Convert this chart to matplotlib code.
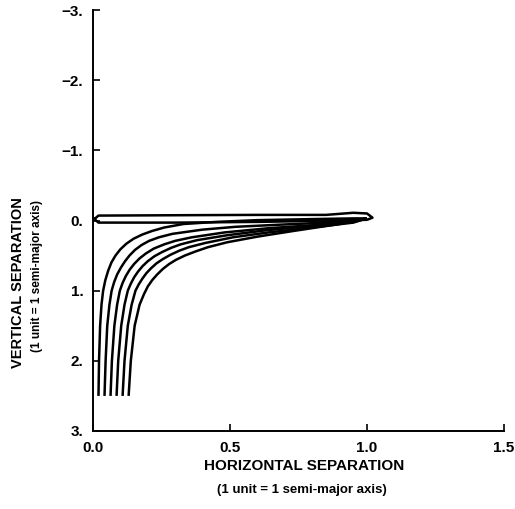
import numpy as np
import matplotlib
matplotlib.use('Agg')
import matplotlib.pyplot as plt

plt.rcParams['font.family'] = ['Liberation Sans', 'DejaVu Sans']

# trajectories, x = horizontal separation, y = vertical separation
curve_x = [
    [0.020, 0.022, 0.026, 0.031, 0.037, 0.045, 0.055, 0.067, 0.082, 0.100, 0.122, 0.148, 0.180, 0.215,
     0.26, 0.33, 0.45, 0.60, 0.80, 0.95, 1.00],
    [0.042, 0.046, 0.052, 0.060, 0.068, 0.077, 0.088, 0.102, 0.117, 0.133, 0.153, 0.177, 0.205, 0.24,
     0.29, 0.40, 0.52, 0.68, 0.85, 0.95, 1.00],
    [0.064, 0.069, 0.078, 0.088, 0.098, 0.108, 0.120, 0.134, 0.150, 0.170, 0.193, 0.222, 0.26, 0.30,
     0.36, 0.48, 0.64, 0.83, 0.95, 1.00],
    [0.086, 0.092, 0.103, 0.115, 0.127, 0.138, 0.150, 0.164, 0.181, 0.200, 0.224, 0.252, 0.285, 0.32,
     0.38, 0.49, 0.63, 0.82, 0.95, 1.00],
    [0.108, 0.115, 0.127, 0.141, 0.155, 0.167, 0.180, 0.195, 0.212, 0.232, 0.255, 0.282, 0.315, 0.35,
     0.41, 0.51, 0.64, 0.82, 0.95, 1.00],
    [0.130, 0.138, 0.152, 0.170, 0.186, 0.200, 0.216, 0.234, 0.255, 0.278, 0.303, 0.335, 0.375, 0.42,
     0.49, 0.60, 0.73, 0.90, 1.00],
]
curve_y = [
    [2.50, 2.00, 1.50, 1.20, 1.00, 0.85, 0.72, 0.60, 0.50, 0.41, 0.33, 0.26, 0.20, 0.15,
     0.10, 0.05, 0.02, -0.005, -0.02, -0.03, -0.03],
    [2.50, 2.00, 1.50, 1.20, 1.00, 0.88, 0.77, 0.67, 0.58, 0.50, 0.42, 0.35, 0.29, 0.24,
     0.19, 0.13, 0.09, 0.06, 0.03, 0.00, -0.03],
    [2.50, 2.00, 1.50, 1.20, 1.00, 0.89, 0.79, 0.70, 0.62, 0.54, 0.47, 0.40, 0.34, 0.29,
     0.24, 0.17, 0.11, 0.06, 0.01, -0.03],
    [2.50, 2.00, 1.50, 1.20, 1.00, 0.90, 0.81, 0.73, 0.65, 0.58, 0.51, 0.45, 0.39, 0.34,
     0.28, 0.21, 0.14, 0.07, 0.02, -0.03],
    [2.50, 2.00, 1.50, 1.20, 1.00, 0.91, 0.83, 0.75, 0.68, 0.61, 0.55, 0.49, 0.43, 0.38,
     0.32, 0.24, 0.17, 0.09, 0.03, -0.03],
    [2.50, 2.00, 1.50, 1.20, 1.05, 0.94, 0.85, 0.77, 0.69, 0.62, 0.56, 0.50, 0.44, 0.38,
     0.31, 0.23, 0.15, 0.05, -0.03],
]

# thin closed loop along the horizontal axis
loop_x = [0.005, 0.02, 0.30, 0.60, 0.85, 0.95, 1.00, 1.02, 1.00, 0.90, 0.60, 0.30, 0.02, 0.005]
loop_y = [-0.02, -0.07, -0.075, -0.08, -0.08, -0.11, -0.10, -0.04, -0.01, 0.00, 0.02, 0.03, 0.03, -0.02]

yticks = [-3, -2, -1, 0, 1, 2, 3]
ytick_labels = ['\u22123.', '\u22122.', '\u22121.', '0.', '1.', '2.', '3.']
xticks = [0.0, 0.5, 1.0, 1.5]
xtick_labels = ['0.0', '0.5', '1.0', '1.5']

fig = plt.figure(figsize=(5.15, 5.09), dpi=100)
ax = fig.add_axes([93 / 515, 1 - 431 / 509, (504 - 93) / 515, (431 - 10) / 509])

for cx, cy in zip(curve_x, curve_y):
    ax.plot(cx, cy, color='black', lw=1.8, solid_joinstyle='round', solid_capstyle='butt')
ax.plot(loop_x, loop_y, color='black', lw=1.8, solid_joinstyle='round')

ax.set_xlim(0, 1.5)
ax.set_ylim(3, -3)
ax.set_xticks(xticks)
ax.set_xticklabels(xtick_labels)
ax.set_yticks(yticks)
ax.set_yticklabels(ytick_labels)

for side in ['top', 'right']:
    ax.spines[side].set_visible(False)
for side in ['left', 'bottom']:
    ax.spines[side].set_linewidth(1.4)

ax.tick_params(direction='in', length=5, width=1.2, labelsize=11, pad=7)
for lbl in ax.get_xticklabels() + ax.get_yticklabels():
    lbl.set_fontweight('bold')

fig.text(304 / 515, 1 - 466 / 509, 'HORIZONTAL SEPARATION', ha='center', va='center',
         fontsize=11, fontweight='bold')
fig.text(302 / 515, 1 - 490 / 509, '(1 unit = 1 semi-major axis)', ha='center', va='center',
         fontsize=9.5, fontweight='bold')
fig.text(18 / 515, 1 - 283 / 509, 'VERTICAL SEPARATION', ha='center', va='center',
         rotation=90, fontsize=10.5, fontweight='bold')
fig.text(37 / 515, 1 - 276 / 509, '(1 unit = 1 semi-major axis)', ha='center', va='center',
         rotation=90, fontsize=8.5, fontweight='bold')

fig.savefig('out.png', dpi=100)
